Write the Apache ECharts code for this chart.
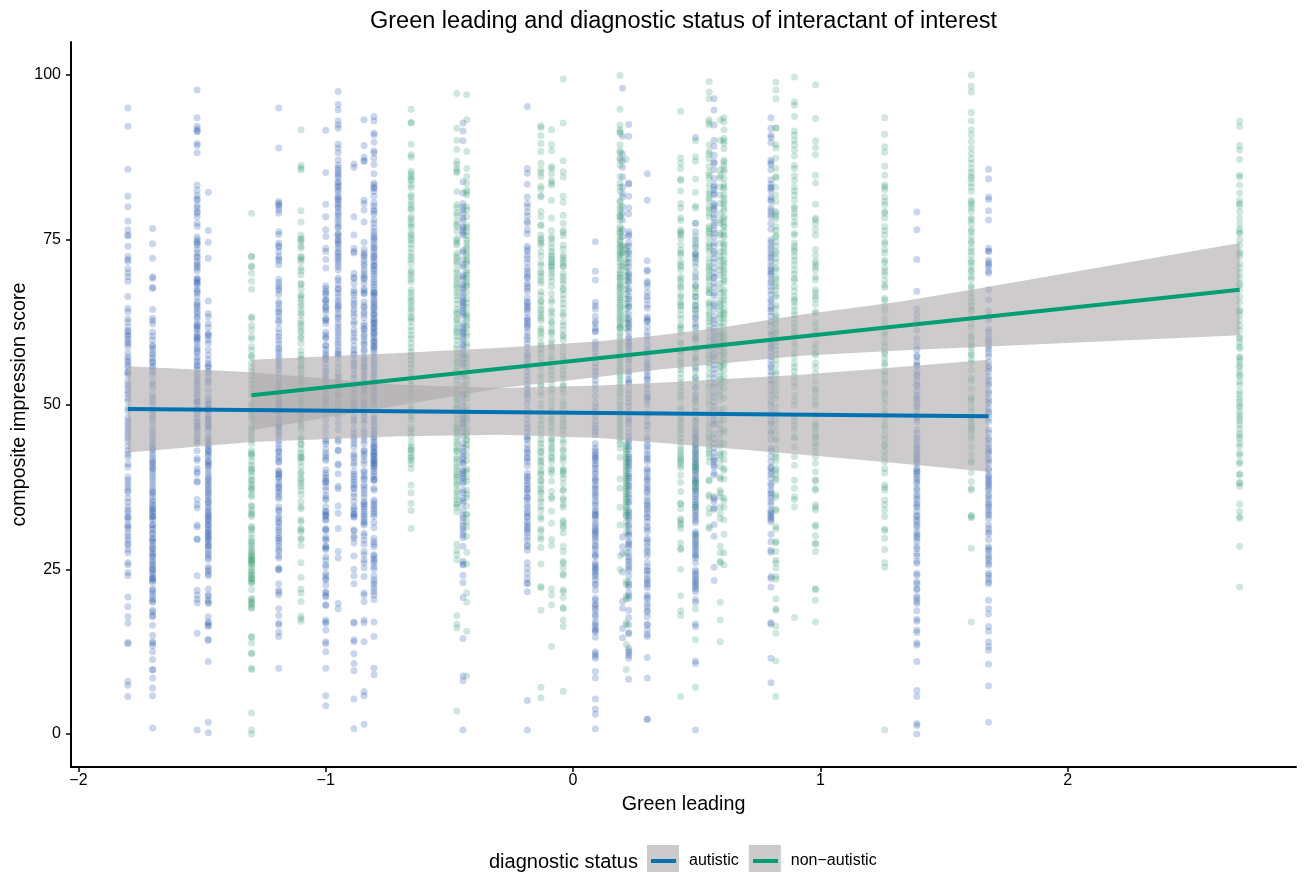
<!DOCTYPE html>
<html><head><meta charset="utf-8">
<style>html,body{margin:0;padding:0;background:#fff}#c{width:1304px;height:872px}</style>
<script src="https://cdn.jsdelivr.net/npm/echarts@6/dist/echarts.min.js"></script>
</head><body><div id="c"></div>
<script>
const titleText = 'Green leading and diagnostic status of interactant of interest';
const xTicks = [-2,-1,0,1,2];
const yTicks = [0,25,50,75,100];
const autisticName = 'autistic';
const nonAutisticName = 'non\u2212autistic';

// leader "green leading" values (columns) and their composite scores
const autisticX = [-1.8,-1.7,-1.52,-1.475,-1.19,-1.0,-0.95,-0.886,-0.845,-0.805,-0.185,-0.445,0.09,0.2,0.225,0.30,0.495,0.57,0.80,1.39,1.68];
const autisticScores = [
[95,92.2,85.7,81.6,80,77.8,76.5,75.7,75.6,74,72.5,72,71.7,70.6,70,69.4,68.7,66.4,64.6,64.1,63,61.8,61,60.3,59.5,58.8,56.5,56,55,54.5,53,52,51,50.5,49.5,49,48,47,46,45,44.5,43,42,41,39,38.5,38,37,36.7,34.5,34,33,32.5,31.5,31.7,30.5,29.5,29,28.7,28,26,25.7,24.5,24,20.8,19.3,17.8,16.8,13.9,13.7,8,7.4,5.7,62.5,61.2,60.6,59.9,59.2,57.8,57.2,56.8,55.7,54.8,53.6,52.6,51.6,47.5,46.5,45.5,43.7,42.5,40.5,37.5,35.8,35.2,33.6,32.8,31.2,30,27.5],
[76.7,74.4,72.2,69.4,69.1,67.8,67.6,64.4,63.1,62.7,62.2,59.8,59,58.4,57.5,57,56.5,55.8,56.4,55.5,55,53,52.5,51.5,51,50,49,48.5,48,46.7,45,44.5,44,43.5,43,42,41.5,41,40.5,40,39.5,39,38.5,38,37.5,37,36.5,36,35.5,34.8,34.5,34.2,33.8,33.5,33,32.8,32.5,31.7,31.3,31,30.5,30.3,29.7,29.6,29.3,29,28.5,28,27.5,27,26.8,26.3,26,25.7,25.3,25,24.5,24.2,23.8,23.6,23.3,23,22,21.8,21.4,21,20.5,20.2,20,18.8,18.5,18,17.8,16.5,15,14,13.8,13.4,12.5,11.3,9.8,9.7,8.5,7,5.8,0.9,61,60.4,58.8,57.8,54.5,53.5,50.5,47.5,46,45.6,43.3,42.4,41.2,40.3,36.7,35.2,34,33.1,31.8,28.2,27.3,24.9,23.5],
[97.7,93.5,92.2,91.5,91.8,91.4,89.6,89.3,88.2,83.3,82.5,81.2,81,80.2,79.8,79.3,79,77.5,77,75.4,75,74.5,74.6,74.2,73.5,72.5,72.3,71.7,71,70.3,69.2,69,68.8,68.4,68.5,67.4,67.2,66.9,65.6,65.2,64.6,64.1,63.8,63.3,62.3,62,61.6,61.3,60.8,60.4,60,59.8,58.8,58.5,57.8,56.8,55.9,55.8,54.7,53.7,53,52,52.5,51.5,50.5,50.4,50,49,48,47.5,46.5,46,45.5,45,44.5,44.2,43,41.8,41.5,40.3,39.8,39.5,38.4,38.2,35.6,34.8,34.3,31.7,31.4,29.6,29.5,24,21.8,21.1,20.4,19.9,15.3,0.6,81.7,78.5,73,71.3,70.7,68.1,66.3,64.9,63,61.9,60.2,59.5,58.1,57.2,56.4,55.3,54.3,53.4,51,49.4,48.6,47.1,46.7],
[82.2,76.4,74.6,72.2,65.7,63.8,63.3,62.3,60.8,60.6,60.4,59.3,58.3,56.8,56.2,55.8,55.7,54.7,53.5,53.2,52.2,51.2,50.2,50.7,50,49.5,49,48.5,48,47.5,47,46.5,46,45.2,44.8,44.4,44,43.7,43.3,43,42.8,42.4,41.5,41,40.5,40,39.5,39,38.7,38.4,38,37.7,37.3,37,36.7,36.3,36,35.5,35.2,35,34.5,34.2,33.5,33.2,33,32.7,32.5,32.2,31.8,31.3,31.7,31,30.5,30.2,30,29.5,29.2,28.8,28.4,28,27.5,27.2,26.8,26.5,25.4,25,24.7,24.3,24,22,21.1,20.9,20.3,20,19.8,17.8,17,16.8,16.5,16.3,14.4,14.2,11,1.8,0.2,61.7,59.8,57.5,55,54,49.2,47.8,46.7,42.1,41.3,40.8,33.8,30.7,29.7,28.6],
[95,88.9,80.8,80.3,79.5,79,76.2,75.8,74.1,73.9,73.2,72.1,71.8,71.2,69,67.6,67.3,68,65.6,64.6,63.9,62.8,62.4,60.8,60.3,59.8,58.3,57.3,56.3,55.3,53.7,52.7,51.2,49.7,50.7,50,49.5,48.8,47.7,47,46.5,46,45.2,44.5,44,43,42.8,42.2,41.4,41.2,40,39.8,39.3,39,38.8,37.5,37.3,36.8,36.5,36,35.7,34.5,34,33.8,33,32.7,32.2,32,31.4,31,30.6,30,29.7,29.4,29,28.5,28,27.7,27,26.7,25.2,25,24.9,22.8,21.8,21.5,21.1,19,18,16.8,16.6,15.5,14.8,10,80.5,80,74.5,72.5,68.5,66.7,65.2,64.2,63.3,61.5,59.2,58.6,57.8,56.8,55.8,54.6,53.2,52.2,51.6,50.4,49.1,48,46.8,45.6,43.4,41.9,39.5,38.2,37.8],
[91.6,85.2,80.4,78.5,76.5,75.5,73.7,73.2,72,70.7,67.6,67.2,66.9,65.9,65.5,64.9,64.4,63.1,62.7,62.3,60.6,60.2,60,57.8,57.4,56.8,55.5,54.5,53.5,51.7,50.2,50.7,49.7,48.7,47.7,46.7,45.7,44.7,44.4,44,42.6,42.2,41.8,40.1,39.6,38.8,38.4,38.1,37.5,37,35.8,35.5,34.5,33.8,33.4,33,32.6,32.4,31.2,30.9,29.9,29.6,28.5,28.4,28.2,26.4,25.7,25.4,24.4,24,23.6,23.4,22.6,21.6,21.4,21,20.8,19.6,19.5,17.3,17,16.8,15.8,14,13.7,12.5,10,5.8,4.3,68,66.6,65.8,64.7,64,62.9,61,59,58.9,58.3,57,56.2,55,54,53,52.4,51.1,43.2,41.5,39.2,38.3,36.2,33.7,33.2,31,29.4,28,26.9],
[97.5,95.5,94.7,93,92.4,91.9,89.5,88.9,87.1,85.9,85.1,84.8,83.6,83.2,82.6,81.6,81.1,80.8,79.8,78.5,77.5,77,76,75.5,75,74.5,73.2,72.9,72.5,72.2,71.4,70.4,69.2,67.4,66.4,65.4,65,64.4,63.3,63,62.3,61.3,60.3,59.3,57.8,57.6,56.3,54.7,53.7,51.7,50.2,48.2,47.2,46.2,44.7,44.4,43.1,43,41,40.8,39.5,37.6,37.2,34.6,33.5,31.2,27.7,26.7,19.8,19,88.2,86.3,85.5,84.4,83.8,83,82.2,81.3,80.4,80,79.2,78.9,78,76.8,75.8,74.8,74.2,73.7,71.8,70.9,68.8,68.2,67.6,66.9,65.8,64.8,63.8,61.8,60.8,59.8,58.8,58.2,57.2,55.5,54.2,53.2,52.7,51.2,49.4],
[86.5,86,78.5,75.7,73.7,73.2,73,69.9,69.3,69.1,67.4,67,66.6,65.4,63.9,63.4,62.6,61.3,60.8,60.2,58.3,57.8,57.5,56.8,55.8,54.5,53,51.7,50.2,50.2,49.2,47.2,46.2,45.1,44.1,42.6,42.2,41.8,40.8,39.8,39.4,39,38.6,38.2,37.8,37.4,37.2,36.5,35.3,34.5,34.2,33.8,33.4,33,32.9,31,30.8,30,29.7,29,27,25,24,22.8,17,16.8,14.3,14,12.2,10.7,9.6,5.3,0.8,68.4,65.9,65,64.4,62.2,59.7,58.9,56.3,55.3,54,52.4,51,49.7,48.2,47.7,45.6,44.6,43.6,41.2,36,33.3],
[93.2,89.3,87.5,87,86.9,81,80.5,79.5,77.7,74.6,73.5,73,72.7,72.4,71.9,71,69.9,69.5,69,69.2,67.6,67.3,66.9,66.8,65.6,64.1,63.7,63.2,62.3,61.9,61.5,61.3,60.7,60.3,59.8,59.3,58.3,58,56.8,56.3,55.8,55.5,54.5,54,53,52.7,51.7,50.2,50,49.3,48.2,47.2,46.2,44.6,43.1,42.9,42.1,41,40,39.7,39.2,38.8,38.6,37.8,37.5,36.5,35.3,35,34.5,34.1,33.7,33.3,33,32.6,32.2,32,31.7,30.5,30.1,29.4,27.2,26.4,26,25.2,23.9,21.4,21.1,20.1,17.3,16.9,14,6.4,5.8,1.5,71.4,70.4,68.4,65,64.7,59,57.2,55,53.5,52.2,50.8,48.8,47.7,45.7,45.1,44.1,42.5,41.5,37,36,34.8,28.8,27.7],
[93.7,93,91.2,90.9,89.8,88.5,88.2,87.4,86.4,85,83.6,83.3,82.9,82.8,82.3,81.6,80.6,80.1,79.6,79.3,78.9,78,77.5,76.8,76.3,75.8,75.4,75.2,74.8,74.3,73.9,73.7,73.3,72.8,72.3,72.5,71.9,71.5,71,71.1,70.6,69.9,69.5,69,68.6,68.2,67.8,67.3,66.9,67,66.4,65.9,65.3,64.9,64.4,64,63.6,63.1,63.7,62.6,62.2,61.8,61.4,61,60.6,60.2,59.8,59.4,59,58.6,58.3,57.8,57.3,56.8,56.3,55.9,55.4,54.9,54.5,54,53.5,53,52.5,52,51.5,51,50.5,50,48.2,47.8,47.3,46.8,46.3,45.9,45.5,45.1,44.8,44.4,44,43.7,43.3,42.9,42.5,42.1,41.7,41.4,41,40.6,40.3,39.9,39.5,39.1,38.7,38.4,37.3,37,35.5,35.2,34.8,34.5,34.1,33.7,33.4,33,32.1,31.3,29.7,29.2,28.8,28.4,27.2,27,26.6,26.3,26,25.4,25,24,23.4,23,22.6,22.1,21.6,21.1,20.4,17,14.8,10,9,70.3,66.7,65.6,64.7,62.9,62.4,61.6,60.8,59.6,58.8,43.5,42.7,42.3,41.6,41.2,40.8,38.6],
[95.2,85.8,85.1,83.4,81.5,79.2,77.8,77.5,76.5,75.9,74,73.6,73.2,72.1,70.7,70.3,69.4,69.2,68.4,67.6,67.2,65.4,65,64.4,64,62.6,62.2,61.9,61.6,60.3,59.9,59.3,57.8,57.4,56.3,56,55,53.7,52.4,50.9,50.2,49.2,47.7,46.4,44.9,44.6,43.9,42.9,42.6,41.8,41.3,39.1,38.9,38.5,38,37.7,37,36.6,35.8,35.5,34.8,34.4,33.5,32.2,31.9,31.2,30.9,30.5,28.7,28.4,27.9,26,24.4,23.6,22.9,22.8,21.6,5.1,0.6,80.5,80,78.6,72.6,71.5,69.8,68,66.2,65.6,64.7,63.2,62.9,60.9,58.6,57,55.7,54.3,53,51.8,51.5,48.5,47,45.9,45.2,43.3,42,40.7,39.6,37.2,36,33.8,33,32.9,31.5,29.9,29.4,25.2],
[92.7,91.5,90,83.8,82.1,80.5,80,79.5,78.3,78,77,76,75.7,73.4,73.1,71.2,70.9,69.4,69,67.9,67.5,66.4,66,65.6,65.4,65,64.6,63.8,63.4,61.8,61.4,61,60.3,59.9,59.3,58.9,57.8,57.4,56.3,55.9,54.7,53,51.4,50.5,49.7,49,48,47.2,46.5,45.8,45.2,44.1,42.9,42.5,41.6,41,40,39.5,38.8,38.3,38,35.8,35.4,35,33.2,32.8,32.2,31.2,30.2,29.8,28.5,26.2,25.8,25.7,24.1,23,20.7,14.5,8.8,8.1,0.6,79,76.8,76.4,72,69.7,68.2,67,64.2,62.3,60.8,58.4,56.9,54.2,51.6,48.5,47.7,46.9,43.5,42,41.2,39.9,39.1,37,36.6,34,31.6,30.7],
[74.7,70.2,68.9,65.5,64.5,62.6,62.3,61.6,61.2,61,59.5,58.5,56.3,55,53.7,52.2,51.2,50.2,48.9,48.2,46.9,45.9,45.4,44.1,42.6,42.3,42,41.8,41.5,41,40.7,39.8,39.5,38.6,38.4,37.5,37.1,36.3,36,35,34.6,34,33.7,33.4,33.2,32,31.6,30.7,30.4,30.1,29.7,29.3,28.7,27.4,27.1,26.9,25.7,25.4,24.6,24.2,23.9,22.8,22.6,21.8,20.6,20.3,19.1,18.7,18.1,17.8,17,16.7,15.9,15.7,15.5,14.7,12.5,12.2,11.8,11.5,9.5,8.5,5.3,3.8,3,0.8,65,63.4,59,57.9,57.3,55.6,54.4,53,49.6,47.5,46.4,43.4,43,40.3,38.9,37.8,36.7,35.4,33,32.6,31.2,30.9,28.4,28,26,25.1,24.9,23.4,19.5,19.7,16.3],
[98,90.7,86,84.5,83,81.5,80,78,76.5,74,71,29.9,28.4,27.4,24.6,20.1,19.1,16,14.6,88,87,82,79,75.5,73],
[92.5,90.7,83.6,83.4,81.6,79.8,78.9,76.2,75.8,75.5,73.2,72.9,72.2,70.9,70,69.7,68.8,68.5,67.6,66.4,64.9,64.7,63.1,62.8,62.3,62,61.6,60.3,59.5,59.1,58.3,57.3,56.3,55,53.5,53.2,52.2,50.9,49.7,48.9,48,47.2,46.5,45.7,45.1,44.6,43.6,43.2,42.4,42,41.3,41,40.6,40.2,39.1,38.8,37.8,37.5,36.3,35.9,35.3,33.2,32.8,32.4,31.7,31.4,30.7,30.4,29,28.7,26.9,26.5,26.1,25.2,23.1,22.7,22.3,21.4,21,20.6,18.8,17.7,16.6,15.4,15.2,13,12.6,12.3,11.9,11.5,8.3,74.5,74,71.5,69.3,67.2,66,65.4,63.8,61.1,60,58.8,57.8,56.8,55.5,54.5,53.8,51.5,50.3,47.6,44.2,41.7,39.5,38.3,37,35,34,33.6,30.1,29.3,28.3,27.5,25.6,24.8,24],
[85,81,71.8,70.4,70.2,68.7,68.4,67.9,67,65.9,65.1,64.6,63.3,63,62.7,62.6,61.8,59.8,59,58.3,56.3,56,55,54,53.7,53,51.7,50.9,50.7,49.9,48.7,47.4,46.2,45.1,43.9,43.6,42.4,42,41.3,40.3,40,39,38.7,38.4,37.8,37,36.7,36,35,34.7,34.3,34,33,32.8,31.5,31.2,29.7,29.4,29,27.9,27.5,27,26,24.9,24.7,23.6,23.3,22.9,22.6,21.1,20.8,20.5,19.8,19.4,18.8,18.5,17.8,16.7,16.5,15.8,15.1,14.8,11.6,8.5,2.3,2.2,66.4,61,60.4,57.8,57,55.5,54.4,52.4,51.2,48.2,46.8,44.6,43,41.7,39.6,37.4,35.4,33.5,32.2,30.7,28.4,25.4,24.2,22.2],
[90.5,77.5,76.2,73,72.7,72.3,66.4,63.3,63,62.3,61.6,45.6,45.2,44.8,44.4,44,43.6,43.2,42.8,42.4,42,41.6,41.2,40.8,40.4,40,39.6,39.2,38.8,38.4,38,37.6,37.2,36.8,36.4,36,35.6,35.2,34.8,34.4,34,33.6,33.2,32.9,32.4,32.1,30.7,30.4,30.1,29.7,29.3,29,28.7,28.3,28,27.6,27.2,27,26.7,26,24.9,24.6,24.2,23.9,23.5,23.2,22.9,22.6,22.3,22,21.6,20.4,20,16.7,16.3,11.1,10.7,0.6,75,74,71.5,70,69,68,65,64.3,60,58.5,57,55.5,54,52.5,51.5,50.5,49,47.5,46.4],
[96.4,94.7,92.4,90.1,89.2,86.8,86.6,85.6,84.3,83.3,83,81.8,80.5,80.2,79.5,78.3,77.2,76,74.5,73.2,72.9,72.2,70.7,69.4,69.2,68.4,66.9,66.5,65.4,65,64.4,62.8,61.6,60,59,57.3,56,54.7,53.2,51.7,49.7,47.7,47.2,45.6,44.1,41.6,41.3,40.8,40.5,39.6,39.3,36,35.7,35.3,34.3,34.1,31.8,30,25.3,23.3,87.8,82.6,82,79.8,78.8,77.6,76.5,75.4,74,71.6,70,67.8,63.4,62.3,61,60.5,59.5,58.5,57.7,56.7,55.4,54,52.7,51.2,50.4,49,48.4,46.9,44.8,43.4,42.7,42],
[93.5,91.9,90.9,90.5,89.7,87.1,86.7,86.4,85.6,84.1,82.8,82.4,81.5,81.1,80.8,79.8,79.4,78.5,77.5,75,74.6,74,73,72.6,72.2,71,70.6,69.9,69.6,68.9,68.5,67.9,65.9,65.6,64.9,64.5,64.1,62.6,61,60.6,59.8,58.5,57.3,56,55.6,55,53.7,52.2,51.4,49.9,48.9,47.4,45.6,43.4,43,42.1,41.3,39.8,39.4,38,37.7,37,36.6,36.3,34.8,34,33.7,33.1,32.8,32.2,30.3,29.2,27.9,27.6,23.9,23.6,22.3,16.9,16.7,11.5,7.8,83.4,83,78.9,76.6,73.6,71.7,70.2,67.3,66.7,63.4,62,59.3,58.8,57.8,56.7,54.4,53.1,50.5,48.3,47,46,44.7,40.5,40.3,38.8,35.8,35.3,33.4,32.5],
[79.2,76.5,72,67.2,64.5,63.6,62.8,60,59,58.3,57.4,57.2,56,55.8,55,54.2,53,52.8,51.4,50.7,49.7,48.2,47.4,46.2,44.9,44.6,43.6,43.2,42.4,42,41.3,41,40.3,40,39.5,38.3,38,37.3,37,36.3,36,35,34.7,34.4,33.2,32.5,32.2,31.7,31.4,30.3,30,29.2,28.4,28.1,27.4,27,26.2,25.9,24.4,24.1,23.1,22.8,22.1,21.9,20.9,20.6,20.1,19.8,18.7,17.4,17.1,15.8,15.4,13.8,13.5,11,6.6,5.7,1.6,1.3,0,61.3,56.5,54.6,53.6,52,51,50,49,47.8,45.6,43.9,42.7,41.7,39.8,39.1,38.7,35.6,33.8,33,30.7,29.7],
[85.7,84.2,81.5,81.1,79.4,78,73.7,73.3,73.2,71.9,71.5,71.2,70.9,70.2,69.9,67.4,65.9,64.2,62.8,61.4,59.8,59.4,58.8,58.4,57.3,55.8,55.5,55,53.2,52.9,52,51.7,50.9,50.5,48.9,48.6,47.4,46.2,44.9,44.6,43.1,42.8,42.5,41.8,41.5,40.3,40,39.3,39,38.3,38,37.3,37,36.3,36,35,34.7,34.4,33.5,33.2,32.7,31.7,30.7,30.4,29.5,28.4,28.1,27.2,25.9,25.6,24.4,24.1,23.1,22.8,20.3,19,18.2,16.3,15.6,14,13.3,12.7,10.6,7.3,1.8,63.4,61,60.3,57.8,56.4,54.2,53.7,50.1,49.4,47.9,45.7,44,43.5,41.1,38.7,37.7,35.5,33.9,31.2,27.8,26.8,26.4,23.6]
];

const nonAutisticX = [-1.3,-1.1,-0.655,-0.47,-0.43,-0.13,-0.087,-0.04,0.19,0.215,0.435,0.495,0.55,0.595,0.61,0.82,0.895,0.98,1.26,1.61,2.695];
const nonAutisticScores = [
[79,72.5,72.4,71,70.9,69.9,68.7,67.5,63.3,63.1,61.3,60.3,59.9,58.8,57.4,57.2,56.3,55,53.7,52.5,51.2,50.2,49.7,48.7,48.2,47.7,46.7,45.7,44.6,44.1,42.6,42.4,42.1,40.8,40.3,39.8,40.1,38.6,38.4,37.5,37.2,37,36,34.7,34.5,33.5,33.3,33,31.5,31.3,31,29.7,29.3,29,28.6,28.2,27.8,27.5,27,26.8,26.5,26.3,26.4,26,25.6,25.2,24.5,24.2,24,23.6,23.3,23,21.9,20.6,20.4,20.1,19.9,19.6,19.2,19.1,14.8,14.7,13.8,12.3,12.2,10,9.8,3.2,0.6,0,62,58.2,55.6,54.3,53,51.8,49.1,46.2,45.2,43,41.4,39.2,37.9,36.3,33.9,30.4,27.2,25.9,24.8,22.9,23.6],
[91.7,86.3,85.9,85.6,79.4,77.7,75.7,75.2,75,74.7,73.7,72.5,72.3,72,71.7,70.7,69.7,68.4,68.2,67.6,66.4,66,65.4,65,63.9,63.5,62.3,61.9,61.3,60.3,60,59.3,57.5,57,56.8,55.8,54.7,53.2,51.7,50.5,50.2,48.7,47.7,47.2,46.7,45.1,44.7,44.1,43.9,42.6,42.2,42,41.8,41.3,39.8,39.5,38.8,38.5,38,37,35.3,34.5,34.2,32.5,32.2,31.2,31,30.7,29.7,29.5,28.6,26,23.8,22,21.4,20.1,17.9,17.5,17.1,74,70.3,66.7,64.4,62.7,61,58.2,56,55.3,54.2,53.4,52.4,51,49.4,48.3,46.2,43.2,40.6,37.6,36.3],
[94.8,92.8,92.7,89.5,87.9,87.5,85.4,85,84.6,84.2,83.3,82.9,81.8,81.5,80.8,79.8,79.5,78.5,78.2,77.2,76.8,76,75.7,75.2,74.9,73.7,72.4,72,70.4,70,69.6,68.6,67.4,67,65.9,65.5,64.9,64.5,63.3,63,62.6,61.8,60.5,59.3,58,56.8,55.5,54.2,53,51.7,49.7,48.7,47.7,45.7,45.1,43.6,43.2,43.1,42.1,41.9,41.5,40.3,37.8,36.6,35,33.9,31.2,84,80.3,77.6,74.3,73,71.4,69,66.4,64,61.2,60,58.6,57.4,56.2,54.8,53.6,52.3,51,49.2,48.2,46.6,46.2,44.2,42.6,41],
[97.2,91.9,90.1,88.7,86.9,86.4,85.8,85.4,85.2,82.3,80.3,79.9,79.1,78.7,77.8,77.3,77,75.2,74.9,74.5,74.2,72.5,72.2,71.7,71.3,70.4,70,69.4,68.4,68,67.6,65.9,64.4,64,63.1,62.8,61.6,61.2,60.3,59.8,59,58.5,57.8,56.3,55,53.7,52.2,50.9,50.7,50,49.3,48.5,47.7,47,46.2,45.5,45,44.4,44,43.4,43,42.9,42,41.7,40.6,40.2,39.3,39,38,37.7,37,36.6,36,35.6,34.8,34.4,33.7,28.8,27.9,27.2,26.4,18,16.7,16.1,3.5,76.3,73,69,67,66.5,65.2,63.7,62.2,60.9,57.2,56.6,55.6,54.3,53,51.5,49.6,46.6,45.9,41.2,39.6,38.5,35],
[97,93.2,88.4,85.8,84.6,83.6,82.6,82.2,81.8,79.5,78.5,77.2,76.2,75,74.5,74,73.6,73,72.6,71.7,71.3,70.4,70,69.6,68.1,67.9,67,65.4,63.8,63.5,62.6,61.6,60.3,59.3,57.5,56.3,55,53.7,52.2,50.9,49.7,48.4,47.4,46.4,45.4,44.7,44.5,43.4,42.4,40.2,39.9,38.3,37,35.8,34.6,33.4,33.2,32.2,31.4,30,27.6,25.8,21.4,20,15.6,8.8,80,76.8,75.6,72,69.1,68.6,66,64.7,63.1,62,60.8,58.8,57,55.6,54.3,53,51.5,49,47.9,45.8,43.9,41.5,39,36.4],
[92.3,92,90.8,89.6,88.4,86.6,85.6,85.2,84.6,83.1,82.7,81.7,81.5,79.3,78.5,77.3,77.1,75.2,74.9,74.5,74.2,73.2,71.5,71.1,70.2,69.9,68.4,67.1,65.8,65.6,64.4,64,63.1,62.7,61.6,61.2,59.3,58.9,57.8,56.3,54.5,53,52.9,51.4,50.2,48.4,46.9,45.4,44.1,42.9,42.7,41.5,41.2,39.6,39.3,38.6,38.4,36.8,36.5,35.3,34,33,32.6,31.1,30.8,29.9,29.5,28.3,25.8,22.4,22.2,18.8,7.1,5.5,75.7,72.5,69.4,68.8,66.6,65,63.5,60.8,60.2,58.4,57.1,55.6,54,51.9,49.4,47.6,46.2,44.6,43.5,42,40.7,40,37.8,37.2,35.7,34.5],
[91.7,89.4,88.5,86.1,85.8,85,84,83.6,83.3,81,78.3,76.4,75.5,75.1,74.5,72.7,72.4,72,71.6,71.5,71,70.4,69.9,69.4,67.9,65.9,65.5,64.4,62.6,62.3,61,60.7,59.8,58.8,57.3,55.8,54.5,53,51.7,50.7,49.7,48.2,47.2,45.9,44.9,44.6,43.6,43.2,42.1,41.8,41.3,40.3,40,38.4,36.8,36,35.7,33.8,32,29.5,28.6,22,21.1,19.6,13.3,73.8,73.2,70.9,68.7,66.8,64,63.4,61.5,59.2,58.3,56.8,55.2,53.8,52.3,49,47.7,46.5,44.2,42.7,39.5],
[99.4,92.7,87,85.3,84.5,81.6,80.7,78.7,77.5,76.4,76.1,75.6,74.2,72.7,72.3,71.9,71.5,70.9,69.9,68.9,67.6,67.4,66,64.6,63.8,63.5,62.5,60.6,60.3,58.8,57.3,55.8,54.5,53,52.8,51.7,49.9,47.7,47.3,46.2,44.6,44.2,42.2,41.9,41.3,40.3,40,39.8,38.8,38,37.1,36.9,35.8,35.5,34.8,34.4,32.4,32.1,31.6,31.3,30.5,28.5,27.7,26.2,25.9,25.2,24.3,24.1,21.9,21.6,20.7,19.2,19,17.3,16.3,6.5,73.6,71,69.4,68.4,66.7,65.3,62,61.3,59.8,58,56.8,55.2,54,52.3,50.5,49.2,48.5,46.7,45.4,43.3,43,39.4],
[99.9,94.8,92.4,91.7,91.4,91.1,89.4,88.5,88.2,87.4,87.1,86.3,84.6,83.6,82.3,81,80.7,80,79.6,79,78.6,78.5,77,76.6,76.2,76,75.5,74.7,74.3,74,73.7,73.3,73,72.7,72.3,70.4,70,69.7,69.3,69.1,68.7,68.3,68,67.7,67.4,67,66.6,66.2,65.9,65.5,65.1,64.8,64.4,64,63.6,63.2,62.9,62.5,62.1,61.7,61.8,61.4,60.8,60.3,59.8,59.2,58.7,58.2,57.7,57.2,56.7,56.2,55.7,55.2,54.7,54.2,53.7,53.2,52.7,52.2,51.7,51.2,50.5,50,49.5,49,48.5,48,47.5,47,46.5,46,45.5,45,44.5,44,43.4,42,38.7,37.3,34.4,31.7,27,25,83,78,75,72,71.5,71],
[87.2,74,73.5,73,72,71.5,70.8,70.2,69.5,68.9,68.1,67.5,66.8,66,65.2,64.6,63.7,63,62.4,61.5,44.1,43.7,43.3,42.9,42.5,42,41.6,41.2,40.8,40.4,40,39.6,39.2,38.8,38.4,38,37.6,37.2,36.8,36.4,36,35.6,35.2,34.8,34.4,34,33.6,33.2,33.1,32.2,31.5,30.5,27.5,23.1,22.7,20.9,20.5,16.9,16.6,13.6,9.8],
[94.5,87.4,86.6,85.8,84.2,84,82.4,80.5,79.8,78.3,77.9,76.5,76.2,76,75.2,74.2,73,72.7,71.7,70.4,69.4,67.9,67.6,66.6,66.3,65.6,64.9,63,62.1,61.4,59.5,59.2,57.8,56.5,55.3,54,52.7,51.4,49.7,49.2,47.7,47.2,45.6,44.9,43.1,42.6,41.8,41.5,41.2,40.8,39.3,38.2,36.8,35,34.9,34.2,32.7,32.4,32,31.7,31.2,29,28.2,28,25,21,18.7,18,5.7,75.7,73.4,71.2,70.9,69,68.5,65.2,64.4,63.6,61.8,60.8,58,56.9,55.8,54.7,53.3,52,50.9,48.2,46.5,46.2,44.4,43.6,42.2,40.4],
[90,87.6,86.9,84.2,82.2,80.1,79.8,77.5,74.5,73.8,70.9,69.4,68,67.6,66.4,65.1,63.8,60.3,58.8,57.3,55.8,54.2,52.7,49.7,48.2,46.7,41.1,40.8,40.4,40,38.6,38.3,38,37.3,37,34.8,34.4,30.2,19,14.3,7.1,75.5,72.8,72,67,65.7,64.5,61.9,60.9,59.8,58.2,56.5,55,53.4,51.2,50.7,47.4,45.9,44.9,43.9,42.8,41.9],
[99,97.4,96.4,93.2,92.8,92.4,89.4,88.4,88,87.3,86.1,84.3,83.3,82.3,81.9,81.3,80.9,80,79.6,78.5,77,76.7,76.3,76,74.5,74.1,73.7,73.2,72.2,71,70.6,69.6,69.2,67.9,67.5,67,66.9,65.6,65.2,64,63.6,62.6,61.3,60.3,58.8,57.5,56.3,54.7,53.2,49.9,48.9,46.4,45.6,44.6,43.1,42.1,41.3,38.6,38.4,36.3,36,34.3,33.5,31.5,31.2,85.2,84.8,79,75.4,71.5,70.2,68.7,64.8,63,61.9,59.6,58.2,57,55.6,54,52.5,51.5,50.6,48.2,47.2,45,43.7,42.6],
[93.2,90.1,85.6,84.8,84.4,83,81.8,80.5,79,77.5,76,75.7,74.5,73.2,71.9,70.4,68.4,66.9,65.9,64.9,63.6,63.2,61.8,61,60.7,59.8,58.8,57.5,56,55.7,54.2,53.8,52.7,51.4,49.2,47.7,45.6,44.1,43.7,42.6,42.3,41.6,40.6,39,38.7,37,36.6,36,34.5,33.5,32.7,28.5,27.5,26.2,26,20,17.3,14,78,72.4,71,69.6,67.6,65.3,64.3,62.4,60.3,59.4,58.2,56.6,55,53.2,52,50.7,48.6,47,46.3,44.8],
[93.5,92.9,91.7,90.4,90,89.6,87.1,86.8,85.3,84.3,83,82.7,81.8,80.8,80.4,79.8,79.4,78.5,78.2,77.2,76.9,75.7,75.4,74.5,74.2,73.2,71.9,71.5,70.4,70,68.9,68.5,67.4,65.9,64.4,64,63.1,60.8,60.4,59.3,58,57.6,56.3,56,54.2,49.4,47.7,46.2,45.8,44.1,42.6,41.6,40.3,40,38.7,35.8,35.4,34.4,32.5,30.3,27.5,25.7,88.8,86.3,85.7,83.4,81.3,77.7,76.3,73.7,72.7,71,69.4,67,66.4,65.3,63.6,62.5,61.7,59.8,58.6,57,55.2,53.5,52.5,51],
[98.9,97.7,96.4,92,91.9,88.9,89.4,87.4,85.8,84.6,84.4,83,81.8,80.8,79.3,79,78.2,77,75.7,75.4,74.7,73.2,72.9,72.2,70.7,70.4,69.4,69,67.9,66.6,66.3,65.1,63.6,63.3,62.3,61,60.7,59.5,58.3,56.8,55,54.6,53.7,52.2,50.9,49.7,47.7,45.9,44.6,42.4,42,40.3,40,38.8,38.5,36.3,35.9,34.1,33.9,31.5,31.1,29.2,29,27.7,26.4,26,25.2,23.9,23.5,20.5,19,18.8,16.4,15.3,11.1,5.7,78.6,76.4,74,71.6,68.4,67.4,64.6,62.8,61.6,60,58.9,57.6,56,53,51.5,48.8,46.8,44.9,43.3,41.4,39.4],
[99.7,95.9,95.4,93.7,91.5,90.9,90.1,89.4,87.7,86.3,85.8,84.7,83,81.8,81,80,79.7,78.5,77.2,76,75.7,74.5,73.5,73.2,71.9,70.4,69.1,68.8,67.9,65.9,65.6,64.9,63.6,62.3,61,59.5,57.8,56.3,55,52.7,51.4,49.9,48.2,46.9,45.1,44.9,43.6,42.1,40.8,38.5,37.3,36,35.6,34.5,17.7,88.6,84,82.4,79,77.7,74,72.5,71.2,69.8,67.2,66.4,64.2,63,61.7,60.4,58.8,57.2,55.7,54.2,53.4,50.6,47.5,46.2],
[98.5,93.4,90,89,87.9,84.8,83.6,80.4,78.3,78,77.5,75.7,73.5,71.7,71.3,70.4,69.4,67.4,67,66.4,64.1,63.8,61.8,60.5,57.8,57.5,56.3,54.7,52.4,52.1,51.2,49.9,47.2,46.8,46.4,45.1,44.1,43.7,42.9,42.1,41.1,39.8,38.6,38.4,37.3,37,34.8,34.4,34,31.7,31.5,30.1,29,28.8,27.7,22.1,21.9,20.3,17,76.6,72.6,70.9,68.9,66,65.2,62.5,61,59.2,58.5,55.6,53.5,50.5,48.4,45.6,44.9],
[93.5,91,89.1,88.3,86.2,84.8,83.3,83,81.5,80.3,79.3,79,78.3,77,75.7,74.7,74.4,73.5,71.9,71.6,70.7,69.7,68.1,67.8,66.1,65.8,64.9,63.1,61,59.5,58,57.7,56.3,56,55,53.2,52,50.9,50.2,49.2,47.7,46.4,45.4,43.9,43.7,42.9,41.3,40.3,39.6,37.8,37.4,37,35.5,34.8,34,33,31.1,30.9,29.7,28,26,25.3,0.6,82.6,80.8,76.4,73,70.2,68.8,64.2,62.2,60.5,58.8,57,54.5,53.6,51.6,48.5,46.9,44.7,42.1],
[100,98.3,97.4,94.3,93,91.7,90.9,89.9,88.9,88.1,86.6,85.8,84.6,84.3,83.6,82.3,81,80.7,80.3,79.3,78.3,78,76.5,76.2,74.8,74.5,73.2,71.9,71.6,70.4,70.1,69.4,68,67.7,66.9,65.6,64.4,64.2,62.3,60.5,60.2,59.5,57.8,57.5,56.3,54,52.4,51.2,50.5,48.9,47.4,46.4,46.1,45.4,43.6,42.4,41.4,41.2,39.7,38.3,37.3,37,33.2,33,32.8,28.2,17,87.3,85.2,83,79.8,77.4,75.5,73.7,72.7,71,69,66.3,65,63.2,61.6,59,58.6,56.9,55.2,53.6,50.8,49.6,47.9,46.9,44.8],
[93,92.2,89.3,88.6,87.2,84.8,84.5,83.3,82.1,80.5,80.2,79.3,78.3,77.4,76.2,75.9,75,73.2,72.9,71.4,69.9,68.4,68.1,66.4,64.4,64.1,62.8,61.3,60.3,60,58.8,58.5,57.3,57,56,55.7,54.5,54.2,53,52,50.9,49.9,49.6,47.9,47.5,46.9,45.6,45.2,44.1,42.6,42.3,41.3,41,39.5,39.3,38.2,38,37.6,34.9,33.8,33,32.7,28.5,22.3,81,76.6,74.2,72.4,70.7,69.2,67.4,65.5,63.6,62,59.4,56.6,55,53.5,51.5,50.4,48.9,48.4,46.3,44.8,43.6]
];

// fitted lines and confidence bands, read at these x positions
const autisticLineX = [-1.8,1.68];
const autisticLineY = [49.3,48.2];
const nonAutisticLineX = [-1.3,2.695];
const nonAutisticLineY = [51.4,67.4];
const autisticBandX = [-1.8,-1.3,-0.7,-0.29,0.11,0.35,0.92,1.16,1.68];
const autisticBandLow = [42.7,44.3,45.2,45.4,44.9,44.2,42.4,41.6,39.8];
const autisticBandHigh = [55.8,54.9,53,52.5,52.9,53.3,54.5,55.2,56.8];
const nonAutisticBandX = [-1.3,-0.7,-0.29,0.11,0.35,0.62,0.92,1.32,1.61,2.695];
const nonAutisticBandLow = [46.1,49.9,52.5,54.2,55.3,56.3,57.4,58.2,58.7,60.5];
const nonAutisticBandHigh = [56.8,57.8,58.6,59.6,60.5,61.8,63.6,65.6,67.4,74.5];

const FONT = '"Liberation Sans", Arial, sans-serif';
const BLUE = '#0072B2', GREEN = '#009E73';

function points(xs, scores){
  const out = [];
  xs.forEach((x,i)=>scores[i].forEach(v=>out.push([x,v])));
  return out;
}
function bandSeries(xs, lo, hi){
  return {
    type:'custom', z:3, silent:true, coordinateSystem:'cartesian2d',
    data:[[xs[0],lo[0]]], clip:false,
    renderItem:(p,api)=>{
      const pts=[];
      xs.forEach((x,i)=>pts.push(api.coord([x,hi[i]])));
      for(let i=xs.length-1;i>=0;i--) pts.push(api.coord([xs[i],lo[i]]));
      return {type:'polygon',shape:{points:pts},style:{fill:'rgba(171,169,170,0.6)'}};
    }
  };
}
const axisBase = {
  axisLine:{show:true,onZero:false,lineStyle:{color:'#000',width:2}},
  splitLine:{show:false},
  nameLocation:'middle',
  nameMoveOverlap:false,
  nameTextStyle:{color:'#000',fontFamily:FONT,fontSize:19.7}
};
const fmt = v => String(v).replace('-','\u2212');
const chart = echarts.init(document.getElementById('c'),null,{renderer:'canvas'});
chart.setOption({
  animation:false,
  backgroundColor:'#fff',
  textStyle:{fontFamily:FONT},
  title:{text:titleText,top:10,left:370,padding:0,textStyle:{color:'#000',fontFamily:FONT,fontSize:23.5,fontWeight:'normal'}},
  grid:{left:71,right:8,top:42,height:725,containLabel:false,outerBoundsMode:'none'},
  xAxis:Object.assign({},axisBase,{type:'value',min:-2.03,max:2.923,name:'Green leading',nameGap:28,
    axisTick:{show:true,length:5,lineStyle:{color:'#000',width:1.5},customValues:xTicks},
    axisLabel:{color:'#000',fontFamily:FONT,fontSize:16,margin:6,customValues:xTicks,formatter:fmt,showMinLabel:true,showMaxLabel:true}}),
  yAxis:Object.assign({},axisBase,{type:'value',min:-5,max:105,name:'composite impression score',nameGap:41,
    axisTick:{show:true,length:5,lineStyle:{color:'#000',width:1.5},customValues:yTicks},
    axisLabel:{color:'#000',fontFamily:FONT,fontSize:16,margin:10,padding:[2,0,0,0],customValues:yTicks,formatter:fmt}}),
  legend:{left:647,top:845,itemWidth:32,itemHeight:32,itemGap:10,orient:'horizontal',padding:0,
    selectedMode:false,
    textStyle:{color:'#000',fontFamily:FONT,fontSize:16,padding:[0,0,0,5]},
    data:[
      {name:autisticName,icon:'rect',itemStyle:{color:'#cccacb',borderWidth:0}},
      {name:nonAutisticName,icon:'rect',itemStyle:{color:'#cccacb',borderWidth:0}}
    ]},
  graphic:[
    {type:'text',left:489,top:852,style:{text:'diagnostic status',fill:'#000',font:'20px '+FONT}},
    {type:'line',z:100,shape:{x1:651,y1:861,x2:676,y2:861},style:{stroke:BLUE,lineWidth:4}},
    {type:'line',z:100,shape:{x1:753,y1:861,x2:778,y2:861},style:{stroke:GREEN,lineWidth:4}}
  ],
  series:[
    {name:'autistic scores',type:'scatter',z:2,silent:true,symbolSize:7,large:false,
      itemStyle:{color:'rgba(38,88,172,0.3)',borderWidth:0},data:points(autisticX,autisticScores)},
    {name:'non-autistic scores',type:'scatter',z:2,silent:true,symbolSize:7,large:false,
      itemStyle:{color:'rgba(40,148,105,0.28)',borderWidth:0},data:points(nonAutisticX,nonAutisticScores)},
    bandSeries(autisticBandX,autisticBandLow,autisticBandHigh),
    bandSeries(nonAutisticBandX,nonAutisticBandLow,nonAutisticBandHigh),
    {name:autisticName,type:'line',z:5,silent:true,showSymbol:false,symbol:'none',
      lineStyle:{color:BLUE,width:4,cap:'butt'},itemStyle:{color:BLUE},
      data:autisticLineX.map((x,i)=>[x,autisticLineY[i]])},
    {name:nonAutisticName,type:'line',z:5,silent:true,showSymbol:false,symbol:'none',
      lineStyle:{color:GREEN,width:4,cap:'butt'},itemStyle:{color:GREEN},
      data:nonAutisticLineX.map((x,i)=>[x,nonAutisticLineY[i]])}
  ]
});
</script></body></html>
